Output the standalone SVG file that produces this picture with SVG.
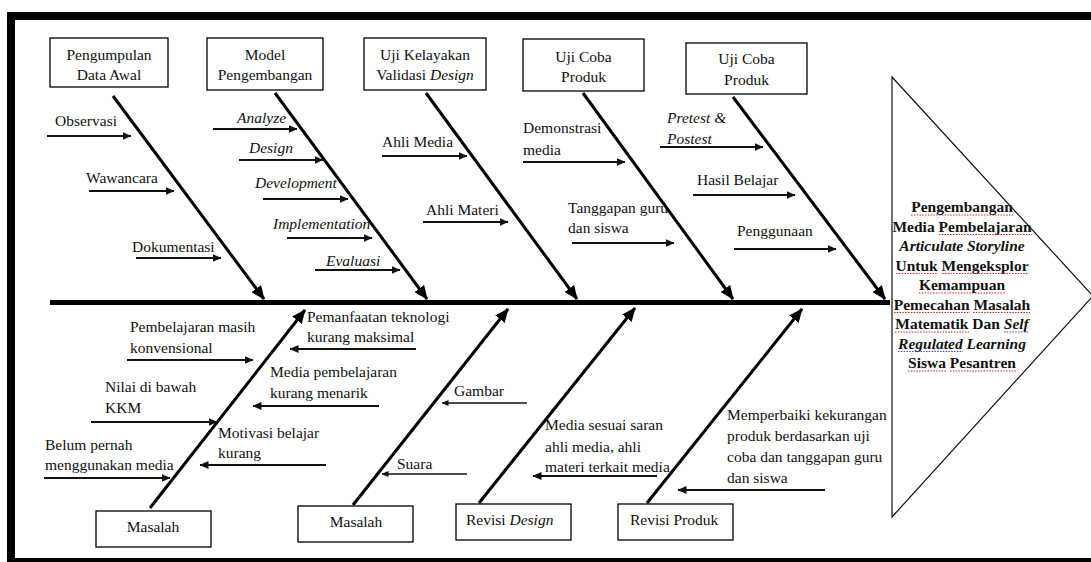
<svg xmlns="http://www.w3.org/2000/svg" width="1091" height="562" viewBox="0 0 1091 562">
<style>
text{font-family:"Liberation Serif","Times New Roman",serif;font-size:15.5px;fill:#111}
.c{text-anchor:middle}
.i{font-style:italic}
.b{font-weight:bold}
.box{fill:#fff;stroke:#000;stroke-width:1.3}
.bone{stroke:#000;stroke-width:3;fill:none}
.lbl{stroke:#111;stroke-width:2.2;fill:none}
.thin{stroke:#111;stroke-width:1.3;fill:none}
.sq{stroke:#e02020;stroke-width:1.2;stroke-dasharray:1.5 1.3;fill:none}
.sqb{stroke:#3050e0;stroke-width:1.2;stroke-dasharray:1.5 1.3;fill:none}
</style>
<defs>
<marker id="mBone" viewBox="0 0 14 12" markerUnits="userSpaceOnUse" markerWidth="14" markerHeight="12" refX="13" refY="6" orient="auto"><path d="M0,0 L14,6 L0,12 z" fill="#000"/></marker>
<marker id="mLbl" viewBox="0 0 9 8" markerUnits="userSpaceOnUse" markerWidth="9" markerHeight="8" refX="8.5" refY="4" orient="auto"><path d="M0,0 L9,4 L0,8 z" fill="#111"/></marker>
<marker id="mThin" viewBox="0 0 7 6" markerUnits="userSpaceOnUse" markerWidth="7" markerHeight="6" refX="6.5" refY="3" orient="auto"><path d="M0,0 L7,3 L0,6 z" fill="#111"/></marker>
</defs>
<rect width="1091" height="562" fill="#fff"/>
<g id="frame" fill="#000">
<rect x="7" y="12" width="1084" height="8"/>
<rect x="7" y="12" width="8" height="550"/>
<rect x="7" y="558" width="1084" height="4"/>
</g>
<g id="connectors">
<line x1="50" y1="302.5" x2="890" y2="302.5" stroke="#000" stroke-width="5"/>
<line class="bone" x1="113" y1="96" x2="264" y2="299" marker-end="url(#mBone)"/>
<line class="bone" x1="275" y1="93" x2="427" y2="299" marker-end="url(#mBone)"/>
<line class="bone" x1="426" y1="93" x2="577" y2="299" marker-end="url(#mBone)"/>
<line class="bone" x1="583" y1="93" x2="733" y2="299" marker-end="url(#mBone)"/>
<line class="bone" x1="733" y1="97" x2="885" y2="299" marker-end="url(#mBone)"/>
<line class="bone" x1="150" y1="508" x2="305" y2="310" marker-end="url(#mBone)"/>
<line class="bone" x1="353" y1="505" x2="508" y2="309" marker-end="url(#mBone)"/>
<line class="bone" x1="479" y1="503" x2="635" y2="308" marker-end="url(#mBone)"/>
<line class="bone" x1="647" y1="503" x2="802" y2="309" marker-end="url(#mBone)"/>
<g marker-end="url(#mLbl)">
<line class="lbl" x1="47" y1="136" x2="131" y2="136"/>
<line class="lbl" x1="89" y1="191" x2="174" y2="191"/>
<line class="lbl" x1="136" y1="258" x2="221" y2="258"/>
<line class="lbl" x1="213" y1="129" x2="297" y2="129"/>
<line class="lbl" x1="239" y1="160" x2="323" y2="160"/>
<line class="lbl" x1="263" y1="199" x2="348" y2="199"/>
<line class="lbl" x1="287" y1="238" x2="372" y2="238"/>
<line class="lbl" x1="315" y1="270" x2="400" y2="270"/>
<line class="lbl" x1="382" y1="156" x2="467" y2="156"/>
<line class="lbl" x1="423" y1="222" x2="508" y2="222"/>
<line class="lbl" x1="523" y1="162" x2="625" y2="162"/>
<line class="lbl" x1="572" y1="243" x2="674" y2="243"/>
<line class="lbl" x1="660" y1="147" x2="763" y2="147"/>
<line class="lbl" x1="693" y1="195" x2="795" y2="195"/>
<line class="lbl" x1="734" y1="249" x2="836" y2="249"/>
<line class="lbl" x1="127" y1="360" x2="253" y2="360"/>
<line class="lbl" x1="91" y1="422" x2="217" y2="422"/>
<line class="lbl" x1="44" y1="478" x2="170" y2="478"/>
<line class="lbl" x1="416" y1="349" x2="290" y2="349"/>
<line class="lbl" x1="379" y1="406" x2="253" y2="406"/>
<line class="lbl" x1="326" y1="465" x2="200" y2="465"/>
<line class="lbl" x1="657" y1="476" x2="533" y2="476"/>
<line class="lbl" x1="825" y1="490" x2="678" y2="490" stroke-width="2.6"/>
</g>
<line class="thin" x1="527" y1="403" x2="442" y2="403" marker-end="url(#mThin)"/>
<line class="thin" x1="467" y1="474" x2="382" y2="474" marker-end="url(#mThin)"/>
</g>
<g id="node-pengumpulan"><rect class="box" x="50" y="38" width="118" height="49"/><text class="c" x="109" y="60">Pengumpulan</text><text class="c" x="109" y="80">Data Awal</text></g>
<g id="node-model"><rect class="box" x="207" y="38" width="116" height="52"/><text class="c" x="265" y="60">Model</text><text class="c" x="265" y="80">Pengembangan</text></g>
<g id="node-uji-kelayakan"><rect class="box" x="364" y="38" width="122" height="52"/><text class="c" x="425" y="60">Uji Kelayakan</text><text class="c" x="425" y="80">Validasi <tspan class="i">Design</tspan></text></g>
<g id="node-uji-coba-1"><rect class="box" x="523" y="39" width="121" height="52"/><text class="c" x="583.5" y="62">Uji Coba</text><text class="c" x="583.5" y="82">Produk</text></g>
<g id="node-uji-coba-2"><rect class="box" x="686" y="43" width="121" height="51"/><text class="c" x="746.5" y="64">Uji Coba</text><text class="c" x="746.5" y="85">Produk</text></g>
<g id="node-masalah-1"><rect class="box" x="96" y="511" width="115" height="36"/><text class="c" x="153" y="532">Masalah</text></g>
<g id="node-masalah-2"><rect class="box" x="298" y="506" width="115" height="36"/><text class="c" x="356" y="527">Masalah</text></g>
<g id="node-revisi-design"><rect class="box" x="456" y="504" width="115" height="36"/><text x="466" y="525">Revisi <tspan class="i">Design</tspan></text></g>
<g id="node-revisi-produk"><rect class="box" x="618" y="504" width="115" height="36"/><text x="630" y="525">Revisi Produk</text></g>
<g id="labels-top">
<text x="55" y="126">Observasi</text>
<text x="86" y="183">Wawancara</text>
<text x="132" y="252">Dokumentasi</text>
<text class="i" x="237" y="123">Analyze</text>
<text class="i" x="249" y="153">Design</text>
<text class="i" x="255" y="188">Development</text>
<text class="i" x="273" y="229">Implementation</text>
<text class="i" x="326" y="266">Evaluasi</text>
<text x="382" y="147">Ahli Media</text>
<text x="426" y="215">Ahli Materi</text>
<text x="523" y="133">Demonstrasi</text>
<text x="523" y="155">media</text>
<text x="568" y="213">Tanggapan guru</text>
<text x="568" y="233">dan siswa</text>
<text class="i" x="667" y="123">Pretest &amp;</text>
<text class="i" x="667" y="144">Postest</text>
<text x="697" y="185">Hasil Belajar</text>
<text x="737" y="236">Penggunaan</text>
</g>
<g id="labels-bottom">
<text x="130" y="332">Pembelajaran masih</text>
<text x="130" y="353">konvensional</text>
<text x="105" y="392">Nilai di bawah</text>
<text x="105" y="413">KKM</text>
<text x="45" y="450">Belum pernah</text>
<text x="45" y="470">menggunakan media</text>
<text x="307" y="322">Pemanfaatan teknologi</text>
<text x="307" y="342">kurang maksimal</text>
<text x="270" y="377">Media pembelajaran</text>
<text x="270" y="398">kurang menarik</text>
<text x="218" y="438">Motivasi belajar</text>
<text x="218" y="458">kurang</text>
<text x="454" y="396">Gambar</text>
<text x="397" y="469">Suara</text>
<text x="545" y="430">Media sesuai saran</text>
<text x="545" y="452">ahli media, ahli</text>
<text x="545" y="472">materi terkait media</text>
<text x="727" y="420">Memperbaiki kekurangan</text>
<text x="727" y="441">produk berdasarkan uji</text>
<text x="727" y="462">coba dan tanggapan guru</text>
<text x="727" y="483">dan siswa</text>
</g>
<g id="node-head">
<polygon points="892,77 1093,296 892,517" fill="#fff" stroke="#111" stroke-width="1.2"/>
<g class="b">
<text class="c b" x="962" y="212">Pengembangan</text>
<text class="c b" x="962" y="231.5">Media Pembelajaran</text>
<text class="c b i" x="962" y="251">Articulate Storyline</text>
<text class="c b" x="962" y="270.5">Untuk Mengeksplor</text>
<text class="c b" x="962" y="290">Kemampuan</text>
<text class="c b" x="962" y="309.5">Pemecahan Masalah</text>
<text class="c b" x="962" y="329">Matematik Dan <tspan class="i">Self</tspan></text>
<text class="c b i" x="962" y="348.5">Regulated Learning</text>
<text class="c b" x="962" y="368">Siswa Pesantren</text>
</g>
<path class="sq" d="M911,215 H1013 M939,234.5 H1032 M896,273.5 H938 M942,273.5 H1029 M919,293 H1005 M894,312.5 H970 M973,312.5 H1030 M895,332 H969 M908,371 H946 M950,371 H1016"/>
<path class="sqb" d="M1004,332 H1029 M898,351.5 H963"/>
</g>
</svg>
